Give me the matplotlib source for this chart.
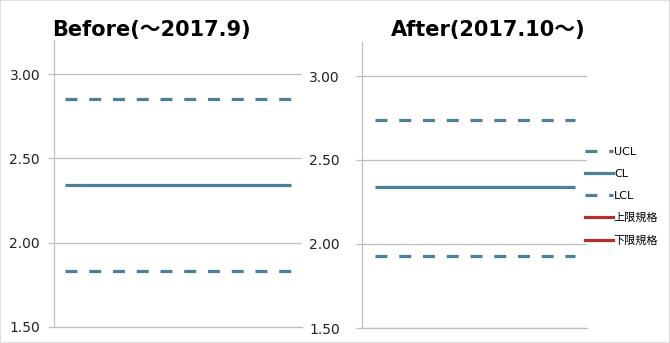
import matplotlib.pyplot as plt
from matplotlib.lines import Line2D
from matplotlib.patches import Rectangle

plt.rcParams['font.family'] = ['DejaVu Sans', 'Noto Sans CJK JP']
plt.rcParams['lines.scale_dashes'] = False

# datos
before_x = list(range(11))
before_ucl = [2.85, 2.85, 2.85, 2.85, 2.85, 2.85, 2.85, 2.85, 2.85, 2.85, 2.85]
before_cl = [2.34, 2.34, 2.34, 2.34, 2.34, 2.34, 2.34, 2.34, 2.34, 2.34, 2.34]
before_lcl = [1.83, 1.83, 1.83, 1.83, 1.83, 1.83, 1.83, 1.83, 1.83, 1.83, 1.83]

after_x = list(range(9))
after_ucl = [2.74, 2.74, 2.74, 2.74, 2.74, 2.74, 2.74, 2.74, 2.74]
after_cl = [2.34, 2.34, 2.34, 2.34, 2.34, 2.34, 2.34, 2.34, 2.34]
after_lcl = [1.93, 1.93, 1.93, 1.93, 1.93, 1.93, 1.93, 1.93, 1.93]

y_ticks = [1.5, 2.0, 2.5, 3.0]
titulos = ['Before(～2017.9)', 'After(2017.10～)']
etiquetas = ['UCL', 'CL', 'LCL', '上限規格', '下限規格']

azul = '#4E7F97'
rojo = '#B0302E'
gris = '#BFBFBF'
guiones = (0, (8.6, 8.5))

W, H = 670, 343
fig = plt.figure(figsize=(W / 100, H / 100), dpi=100)


def px_axes(x0, x1, y_top, y_bot):
    return fig.add_axes([x0 / W, 1 - y_bot / H, (x1 - x0) / W, (y_bot - y_top) / H])


def dibujar(ax, x, ucl, cl, lcl, pad):
    ax.plot(x, ucl, color=azul, lw=2.3, linestyle=guiones, dash_capstyle='butt')
    ax.plot(x, cl, color=azul, lw=2.3, solid_capstyle='butt')
    ax.plot(x, lcl, color=azul, lw=2.3, linestyle=guiones, dash_capstyle='butt')
    ax.set_xlim(-0.5, len(x) - 0.5)
    ax.set_ylim(1.5, 3.2)
    ax.set_yticks(y_ticks)
    ax.set_yticklabels(['%.2f' % v for v in y_ticks])
    ax.set_xticks([])
    ax.grid(axis='y', color=gris, lw=0.9)
    ax.set_axisbelow(True)
    for s in ['top', 'right']:
        ax.spines[s].set_visible(False)
    for s in ['left', 'bottom']:
        ax.spines[s].set_color(gris)
        ax.spines[s].set_linewidth(0.9)
    ax.tick_params(axis='y', length=4, width=0.9, color=gris, pad=pad,
                   labelsize=10, labelcolor='#222222')


ax1 = px_axes(54, 302, 40.3, 327)
dibujar(ax1, before_x, before_ucl, before_cl, before_lcl, 6)

ax2 = px_axes(362, 587, 42.4, 328)
dibujar(ax2, after_x, after_ucl, after_cl, after_lcl, 12)

fig.text(151 / W, 1 - 36 / H, titulos[0], ha='center', va='baseline',
         fontsize=15, fontweight='bold')
fig.text(488 / W, 1 - 36 / H, titulos[1], ha='center', va='baseline',
         fontsize=15, fontweight='bold')

handles = [
    Line2D([], [], color=azul, lw=2.3, linestyle=guiones, dash_capstyle='butt'),
    Line2D([], [], color=azul, lw=2.3),
    Line2D([], [], color=azul, lw=2.3, linestyle=guiones, dash_capstyle='butt'),
    Line2D([], [], color=rojo, lw=2.3),
    Line2D([], [], color=rojo, lw=2.3),
]
fig.legend(handles, etiquetas, loc='upper left', bbox_to_anchor=(585 / W, 1 - 147 / H),
           frameon=False, borderpad=0, borderaxespad=0, handlelength=2.5,
           handletextpad=0.1, labelspacing=1.08, prop={'size': 8})

fig.patches.append(Rectangle((0, 0), 1, 1, transform=fig.transFigure, fill=False,
                             edgecolor='#D9D9D9', lw=1.2))

fig.savefig('out.png', dpi=100)
